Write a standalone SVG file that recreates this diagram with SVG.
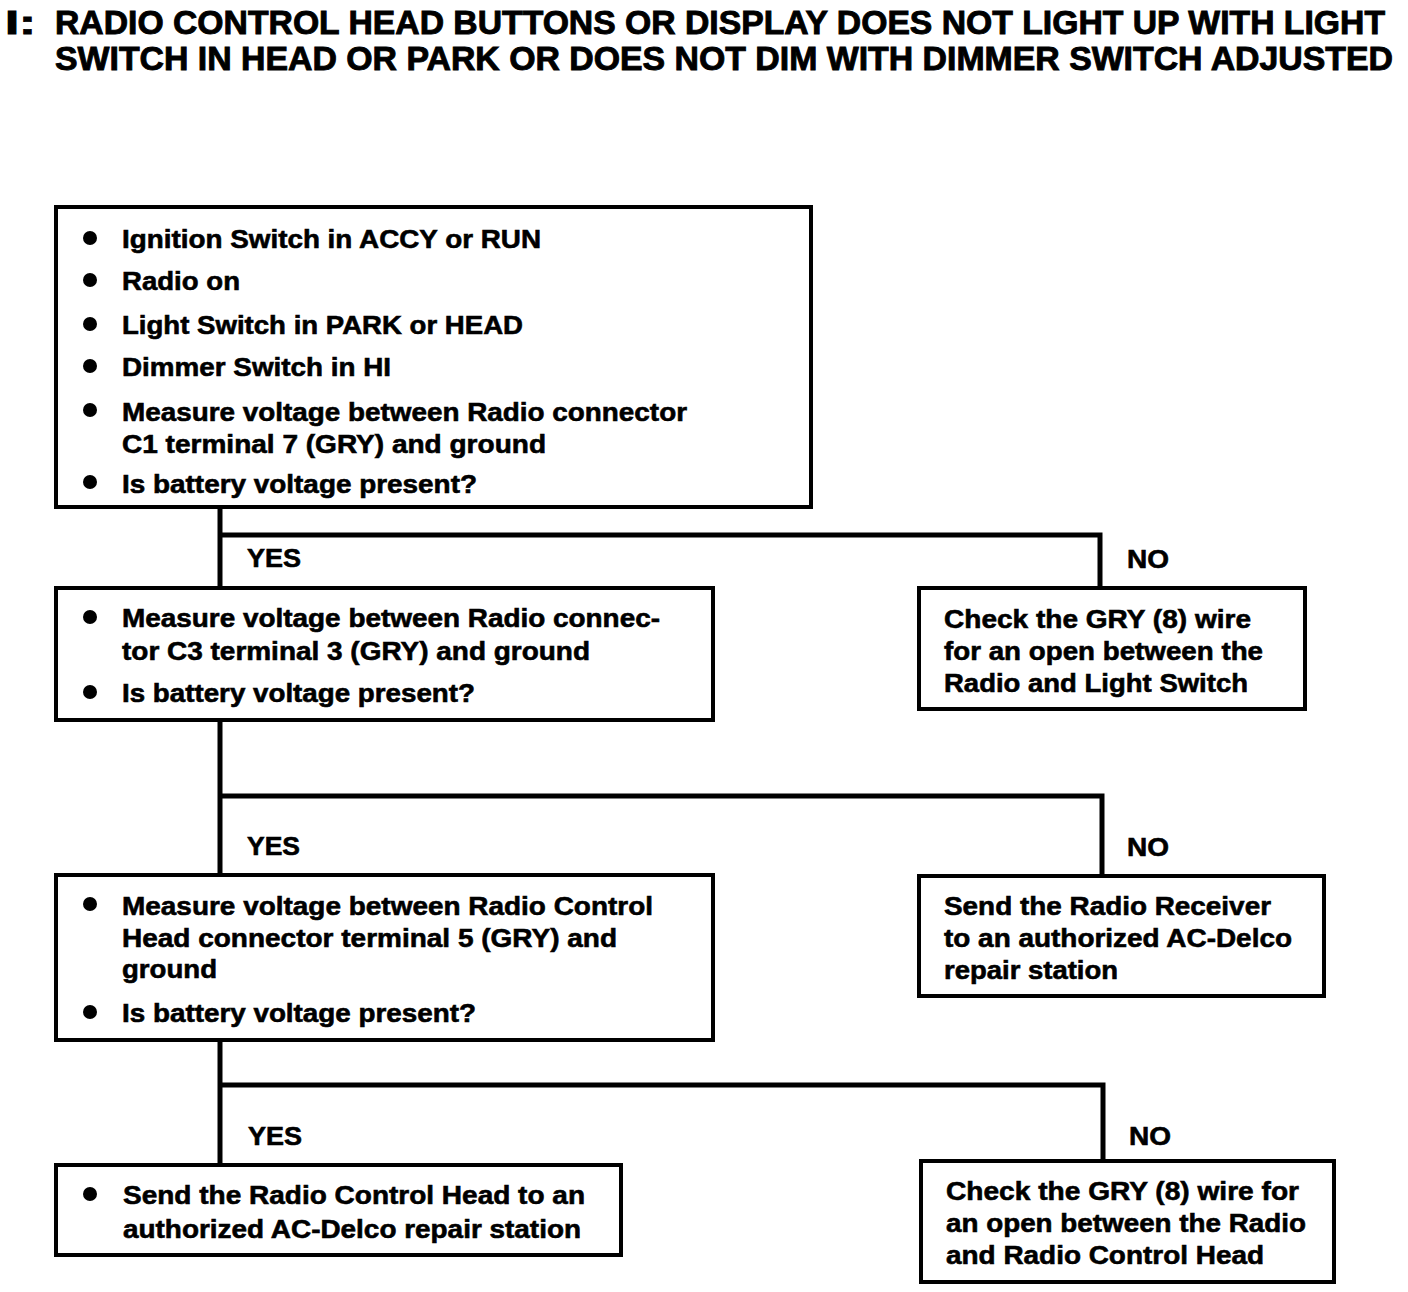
<svg xmlns="http://www.w3.org/2000/svg" width="1408" height="1292" viewBox="0 0 1408 1292">
<style>
.box{fill:#fff;stroke:#000;stroke-width:4}
.ln{fill:none;stroke:#000;stroke-width:5}
text{font-family:"Liberation Sans",Arial,sans-serif;font-weight:bold;fill:#000;stroke:#000;stroke-width:0.6}
.t{font-size:33px;stroke-width:0.9}
.b{font-size:26px}
.bul{fill:#000}
</style>
<rect width="1408" height="1292" fill="#fff"/>
<g id="title">
<text class="t" x="5" y="34" textLength="31" lengthAdjust="spacingAndGlyphs">I:</text>
<text class="t" x="55" y="34" textLength="1330" lengthAdjust="spacingAndGlyphs">RADIO CONTROL HEAD BUTTONS OR DISPLAY DOES NOT LIGHT UP WITH LIGHT</text>
<text class="t" x="55" y="70" textLength="1338" lengthAdjust="spacingAndGlyphs">SWITCH IN HEAD OR PARK OR DOES NOT DIM WITH DIMMER SWITCH ADJUSTED</text>
</g>
<g id="connectors">
<polyline class="ln" points="220,507 220,588"/>
<polyline class="ln" points="220,535 1100,535 1100,588"/>
<polyline class="ln" points="220,720 220,875"/>
<polyline class="ln" points="220,796 1102,796 1102,876"/>
<polyline class="ln" points="220,1040 220,1165"/>
<polyline class="ln" points="220,1085 1103,1085 1103,1161"/>
<text class="b" x="247" y="567" textLength="54" lengthAdjust="spacingAndGlyphs">YES</text>
<text class="b" x="1127" y="568" textLength="42" lengthAdjust="spacingAndGlyphs">NO</text>
<text class="b" x="247" y="855" textLength="53" lengthAdjust="spacingAndGlyphs">YES</text>
<text class="b" x="1127" y="856" textLength="42" lengthAdjust="spacingAndGlyphs">NO</text>
<text class="b" x="248" y="1145" textLength="54" lengthAdjust="spacingAndGlyphs">YES</text>
<text class="b" x="1129" y="1145" textLength="42" lengthAdjust="spacingAndGlyphs">NO</text>
</g>
<g id="box1">
<rect class="box" x="56" y="207" width="755" height="300"/>
<circle class="bul" cx="90" cy="238" r="7"/>
<text class="b" x="122" y="248" textLength="419" lengthAdjust="spacingAndGlyphs">Ignition Switch in ACCY or RUN</text>
<circle class="bul" cx="90" cy="280" r="7"/>
<text class="b" x="122" y="290" textLength="118" lengthAdjust="spacingAndGlyphs">Radio on</text>
<circle class="bul" cx="90" cy="324" r="7"/>
<text class="b" x="122" y="334" textLength="401" lengthAdjust="spacingAndGlyphs">Light Switch in PARK or HEAD</text>
<circle class="bul" cx="90" cy="366" r="7"/>
<text class="b" x="122" y="376" textLength="269" lengthAdjust="spacingAndGlyphs">Dimmer Switch in HI</text>
<circle class="bul" cx="90" cy="410" r="7"/>
<text class="b" x="122" y="421" textLength="565" lengthAdjust="spacingAndGlyphs">Measure voltage between Radio connector</text>
<text class="b" x="122" y="453" textLength="424" lengthAdjust="spacingAndGlyphs">C1 terminal 7 (GRY) and ground</text>
<circle class="bul" cx="90" cy="482" r="7"/>
<text class="b" x="122" y="493" textLength="355" lengthAdjust="spacingAndGlyphs">Is battery voltage present?</text>
</g>
<g id="box2">
<rect class="box" x="56" y="588" width="657" height="132"/>
<circle class="bul" cx="90" cy="617" r="7"/>
<text class="b" x="122" y="627" textLength="538" lengthAdjust="spacingAndGlyphs">Measure voltage between Radio connec-</text>
<text class="b" x="122" y="660" textLength="468" lengthAdjust="spacingAndGlyphs">tor C3 terminal 3 (GRY) and ground</text>
<circle class="bul" cx="90" cy="692" r="7"/>
<text class="b" x="122" y="702" textLength="353" lengthAdjust="spacingAndGlyphs">Is battery voltage present?</text>
</g>
<g id="no1">
<rect class="box" x="919" y="588" width="386" height="121"/>
<text class="b" x="944" y="628" textLength="307" lengthAdjust="spacingAndGlyphs">Check the GRY (8) wire</text>
<text class="b" x="944" y="660" textLength="319" lengthAdjust="spacingAndGlyphs">for an open between the</text>
<text class="b" x="944" y="692" textLength="304" lengthAdjust="spacingAndGlyphs">Radio and Light Switch</text>
</g>
<g id="box3">
<rect class="box" x="56" y="875" width="657" height="165"/>
<circle class="bul" cx="90" cy="904" r="7"/>
<text class="b" x="122" y="915" textLength="531" lengthAdjust="spacingAndGlyphs">Measure voltage between Radio Control</text>
<text class="b" x="122" y="947" textLength="495" lengthAdjust="spacingAndGlyphs">Head connector terminal 5 (GRY) and</text>
<text class="b" x="122" y="978" textLength="95" lengthAdjust="spacingAndGlyphs">ground</text>
<circle class="bul" cx="90" cy="1012" r="7"/>
<text class="b" x="122" y="1022" textLength="354" lengthAdjust="spacingAndGlyphs">Is battery voltage present?</text>
</g>
<g id="no2">
<rect class="box" x="919" y="876" width="405" height="120"/>
<text class="b" x="944" y="915" textLength="327" lengthAdjust="spacingAndGlyphs">Send the Radio Receiver</text>
<text class="b" x="944" y="947" textLength="348" lengthAdjust="spacingAndGlyphs">to an authorized AC-Delco</text>
<text class="b" x="944" y="979" textLength="174" lengthAdjust="spacingAndGlyphs">repair station</text>
</g>
<g id="box4">
<rect class="box" x="56" y="1165" width="565" height="90"/>
<circle class="bul" cx="90" cy="1194" r="7"/>
<text class="b" x="123" y="1204" textLength="462" lengthAdjust="spacingAndGlyphs">Send the Radio Control Head to an</text>
<text class="b" x="123" y="1238" textLength="458" lengthAdjust="spacingAndGlyphs">authorized AC-Delco repair station</text>
</g>
<g id="no3">
<rect class="box" x="921" y="1161" width="413" height="121"/>
<text class="b" x="946" y="1200" textLength="353" lengthAdjust="spacingAndGlyphs">Check the GRY (8) wire for</text>
<text class="b" x="946" y="1232" textLength="360" lengthAdjust="spacingAndGlyphs">an open between the Radio</text>
<text class="b" x="946" y="1264" textLength="318" lengthAdjust="spacingAndGlyphs">and Radio Control Head</text>
</g>
</svg>
